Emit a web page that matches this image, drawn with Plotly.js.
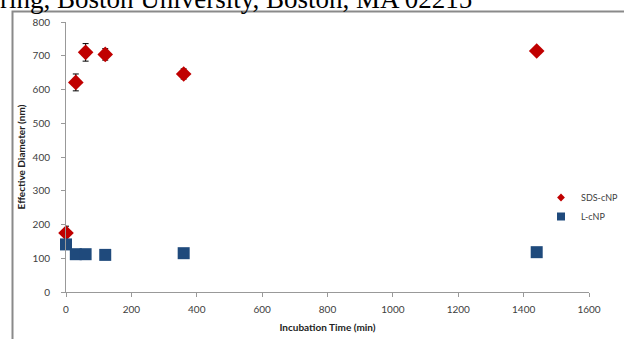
<!DOCTYPE html>
<html>
<head>
<meta charset="utf-8">
<script src="https://cdn.plot.ly/plotly-3.0.1.min.js"></script>
<style>html,body{margin:0;padding:0;background:#fff;}#chart{width:624px;height:339px;}</style>
</head>
<body>
<div id="chart"></div>
<script>
// Data
const timeMin = [0, 30, 60, 120, 360, 1440];
const sdsDiameter = [175, 621, 710, 704, 646, 714];
const sdsError = [20, 25, 26, 17, 15, 5];
const lDiameter = [141, 112, 112, 110, 115, 118];
const seriesNames = ["SDS-cNP", "L-cNP"];
const xTicks = [0, 200, 400, 600, 800, 1000, 1200, 1400, 1600];
const yTicks = [0, 100, 200, 300, 400, 500, 600, 700, 800];
const headerText = "ring, Boston University, Boston, MA 02215";

const W = 624, H = 339;
const L = 66, R = 35, T = 22, B = 47;
const pw = W - L - R, ph = H - T - B;
const px = v => (v - L) / pw;       // pixel x -> paper
const py = v => (H - B - v) / ph;   // pixel y -> paper

const red = "#C00000", blue = "#1F4A7C";
const traces = [
  {
    x: timeMin, y: sdsDiameter, name: seriesNames[0], type: "scatter", mode: "markers",
    showlegend: false, cliponaxis: false,
    marker: {symbol: "diamond", size: 12, color: red},
    error_y: {type: "data", array: sdsError, visible: true, color: "#000", thickness: 1, width: 3}
  },
  {
    x: timeMin, y: lDiameter, name: seriesNames[1], type: "scatter", mode: "markers",
    showlegend: false, cliponaxis: false,
    marker: {symbol: "square", size: 12, color: blue}
  },
  // legend-only entries (smaller symbols, as in the reference legend)
  {x: [null], y: [null], name: seriesNames[0], type: "scatter", mode: "markers",
   marker: {symbol: "diamond", size: 6, color: red}},
  {x: [null], y: [null], name: seriesNames[1], type: "scatter", mode: "markers",
   marker: {symbol: "square", size: 8, color: blue}}
];

const fam = "Lato, 'Open Sans', sans-serif";
const tickFont = {family: fam, size: 10, color: "#404040"};
const layout = {
  width: W, height: H,
  margin: {l: L, r: R, t: T, b: B, pad: 0, autoexpand: false},
  paper_bgcolor: "#fff", plot_bgcolor: "#fff",
  showlegend: true,
  legend: {x: px(541), y: py(183), xanchor: "left", yanchor: "top",
           font: {family: fam, size: 9, color: "#404040"},
           bgcolor: "rgba(0,0,0,0)", itemwidth: 30, tracegroupgap: 0},
  xaxis: {
    range: [0, 1600], tickvals: xTicks, ticktext: xTicks.map(String),
    showgrid: false, zeroline: false, showline: true, linecolor: "#999", linewidth: 1,
    ticks: "outside", ticklen: 4, tickcolor: "#999", tickfont: tickFont, ticklabelstandoff: 4,
    title: {text: "Incubation Time (min)", font: {family: fam, size: 10, color: "#222", weight: "bold"}, standoff: 9}
  },
  yaxis: {
    range: [0, 800], tickvals: yTicks, ticktext: yTicks.map(String),
    showgrid: false, zeroline: false, showline: true, linecolor: "#999", linewidth: 1,
    ticks: "outside", ticklen: 4, tickcolor: "#999", tickfont: tickFont, ticklabelstandoff: 9,
    title: {text: "Effective Diameter (nm)", font: {family: fam, size: 10, color: "#222", weight: "bold"}, standoff: 5}
  },
  shapes: [
    {type: "rect", xref: "paper", yref: "paper", x0: px(12.5), x1: px(700), y0: py(400), y1: py(11.5),
     line: {color: "#8a8a8a", width: 2}, fillcolor: "rgba(0,0,0,0)", layer: "below"}
  ],
  annotations: [
    {text: headerText, xref: "paper", yref: "paper", x: px(-2), y: py(16), xanchor: "left", yanchor: "bottom",
     showarrow: false, font: {family: "'Liberation Serif', 'Times New Roman', serif", size: 27, color: "#000"}}
  ]
};

Plotly.newPlot("chart", traces, layout, {staticPlot: true, displayModeBar: false});
</script>
</body>
</html>
